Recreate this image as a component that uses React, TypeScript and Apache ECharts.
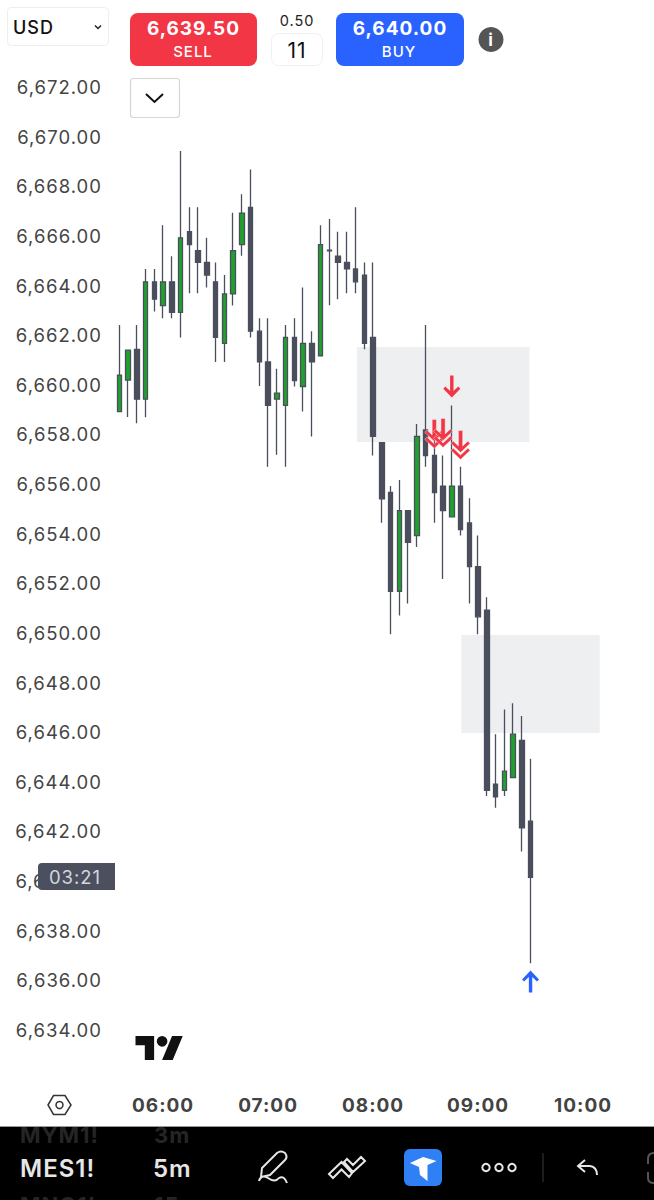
import React, { useEffect, useRef } from "react";
import * as echarts from "echarts";

const times: string[] = [];
for (let h = 5, m = 35; times.length < 61; m += 5) {
  if (m === 60) { m = 0; h += 1; }
  times.push(String(h).padStart(2, "0") + ":" + String(m).padStart(2, "0"));
}

const opens = [
  6658.92, 6660.19, 6661.43, 6659.42, 6664.15, 6663.19, 6664.15, 6662.92, 6666.17, 6665.41,
  6664.93, 6664.15, 6661.67, 6663.66, 6665.65, 6667.15, 6662.16, 6660.92, 6659.42, 6659.17,
  6661.91, 6659.93, 6661.67, 6661.17, 6665.43, 6665.18, 6664.93, 6664.67, 6664.42, 6661.91,
  6657.67, 6655.66, 6651.68, 6654.93, 6653.92, 6658.18, 6657.15, 6655.92, 6654.68, 6655.92,
  6654.43, 6652.67, 6650.92, 6643.91, 6643.66, 6644.17, 6645.67, 6642.42,
];
const closes = [
  6660.39, 6661.40, 6659.42, 6664.15, 6663.45, 6664.15, 6662.92, 6665.92, 6665.65, 6664.93,
  6664.42, 6661.91, 6663.66, 6665.41, 6666.92, 6662.16, 6660.92, 6659.17, 6659.66, 6661.91,
  6660.17, 6661.67, 6660.92, 6665.65, 6665.40, 6664.93, 6664.67, 6664.15, 6661.67, 6657.92,
  6655.40, 6651.68, 6654.93, 6653.65, 6657.92, 6657.15, 6655.66, 6654.93, 6655.92, 6654.16,
  6652.67, 6650.65, 6643.66, 6643.40, 6644.43, 6645.92, 6642.15, 6640.15,
];
const lows = [
  6658.92, 6658.70, 6658.45, 6658.69, 6662.95, 6662.68, 6662.68, 6661.91, 6663.69, 6663.69,
  6663.92, 6660.92, 6660.92, 6663.19, 6665.20, 6661.91, 6659.95, 6656.70, 6657.18, 6656.70,
  6659.93, 6658.92, 6657.92, 6661.17, 6663.20, 6663.45, 6663.69, 6663.69, 6661.43, 6657.15,
  6654.44, 6649.95, 6650.70, 6651.19, 6653.46, 6656.70, 6654.44, 6652.17, 6654.68, 6653.93,
  6651.19, 6649.95, 6643.43, 6642.96, 6643.43, 6644.17, 6641.19, 6636.69,
];
const highs = [
  6662.41, 6661.40, 6662.41, 6664.67, 6664.67, 6666.43, 6665.18, 6669.42, 6667.15, 6667.15,
  6665.92, 6664.93, 6664.42, 6666.93, 6667.68, 6668.68, 6662.68, 6662.68, 6660.65, 6662.41,
  6662.68, 6663.92, 6662.16, 6666.43, 6666.68, 6666.17, 6666.17, 6667.15, 6664.93, 6664.93,
  6657.67, 6655.92, 6656.16, 6654.93, 6658.42, 6662.41, 6657.78, 6657.15, 6659.17, 6656.70,
  6655.43, 6653.93, 6651.44, 6645.92, 6646.92, 6647.17, 6646.65, 6644.93,
];

const candles = opens.map((o, i) => [o, closes[i], lows[i], highs[i]]);
const isUp = closes.map((c, i) => c > opens[i]);

const singleSells = [[38, 6659.93]];
const doubleSells = [[36, 6658.02], [37, 6658.06], [39, 6657.57]];
const buys = [[47, 6635.95]];

const zones = [
  { from: 27.15, to: 46.88, top: 6661.52, bottom: 6657.69 },
  { from: 39.1, to: 54.9, top: 6649.92, bottom: 6645.97 },
];

const yTicks = { min: 6632, max: 6674, step: 2 };
const timeLabels = ["06:00", "07:00", "08:00", "09:00", "10:00"];

const UP = "#1fa12e";
const DOWN = "#4b4e5c";
const RED = "#f23645";
const BLUE = "#2962ff";
const FONT = "Inter";
const ARROW_DOWN = "path://M6.8 0H10.2V15.5L15 11L17 13.2L8.5 22L0 13.2L2 11L6.8 15.5Z";
const ARROW_UP = "path://M6.8 22H10.2V6.5L15 11L17 8.8L8.5 0L0 8.8L2 11L6.8 6.5Z";
const DOUBLE_DOWN =
  "path://M7 0H11V15.5L16 10.5L18 13L9 22L0 13L2 10.5L7 15.5ZM2 17.5L9 24.5L16 17.5L18 20L9 29L0 20Z";

echarts.graphic.registerShape("tvlogo", echarts.graphic.extendPath("M14 22H7V11H0V4h14v18zM28 22h-8l7.5-18h8L28 22zM24 8a4 4 0 1 1-8 0 4 4 0 0 1 8 0z", {}));
echarts.graphic.registerShape("penicon", echarts.graphic.extendPath("M262 1168L277 1153Q281 1150 285 1153Q288 1157 285 1160L270 1175L261 1177ZM259 1181Q261 1174 268 1178Q275 1183 279 1178Q284 1175 287 1183", {}));
echarts.graphic.registerShape("zigicon", echarts.graphic.extendPath("M329 1174L341.5 1162L352 1173L349 1177L341.5 1169.5L333 1178ZM344 1162L347 1159L353 1165L361 1157L365 1161L353 1172Z", {}));
echarts.graphic.registerShape("tfmark", echarts.graphic.extendPath("M410 1163L423 1157L436.5 1161L427.5 1165V1181L420 1175L419 1167Z", {}));
echarts.graphic.registerShape("undoicon", echarts.graphic.extendPath("M585 1160L578 1166L585 1172M578 1166L590 1166Q597 1167 597 1175", {}));
echarts.graphic.registerShape("bracketicon", echarts.graphic.extendPath("M654 1153Q648 1153 648 1159V1164M648 1172V1178Q648 1183 654 1183", {}));

const text = (s: string, x: number, y: number, font: string, fill: string, align = "center", z = 110) => ({
  type: "text",
  z,
  style: { text: s, x, y, font, fill, align, textAlign: align, verticalAlign: "middle", textVerticalAlign: "middle" },
});

const uiGraphics = [
  { type: "rect", z: 100, shape: { x: 7.5, y: 7.5, width: 101, height: 38, r: 4 }, style: { fill: "#fff", stroke: "#eeeeee", lineWidth: 1 } },
  text("USD", 13, 27, `500 18px ${FONT}`, "#111", "left"),
  { type: "polyline", z: 110, shape: { points: [[95, 25.5], [98, 28.5], [101, 25.5]] }, style: { fill: "none", stroke: "#222", lineWidth: 1.5 } },

  { type: "rect", z: 100, shape: { x: 130, y: 13, width: 127, height: 53, r: 8 }, style: { fill: RED } },
  text("6,639.50", 193.5, 28.5, `700 19px ${FONT}`, "#fff"),
  text("SELL", 193, 51, `500 15px ${FONT}`, "#fff"),

  text("0.50", 297, 20, `400 14.5px ${FONT}`, "#222"),
  { type: "rect", z: 100, shape: { x: 271.5, y: 33.5, width: 51, height: 32, r: 7 }, style: { fill: "#fff", stroke: "#f0f0f0", lineWidth: 1 } },
  text("11", 297, 50, `400 21px ${FONT}`, "#111"),

  { type: "rect", z: 100, shape: { x: 336, y: 13, width: 128, height: 53, r: 8 }, style: { fill: BLUE } },
  text("6,640.00", 400, 28.5, `700 19px ${FONT}`, "#fff"),
  text("BUY", 399, 51, `500 15px ${FONT}`, "#fff"),

  { type: "circle", z: 100, shape: { cx: 491, cy: 39.5, r: 12.5 }, style: { fill: "#555" } },
  text("i", 491, 40, `700 17px ${FONT}`, "#fff"),

  { type: "rect", z: 100, shape: { x: 130.5, y: 78.5, width: 49, height: 39, r: 3 }, style: { fill: "#fff", stroke: "#d6d6d6", lineWidth: 1.2 } },
  { type: "polyline", z: 110, shape: { points: [[146, 94], [154.5, 102], [163, 94]] }, style: { fill: "none", stroke: "#111", lineWidth: 2 } },

  { type: "rect", z: 100, shape: { x: 38, y: 863, width: 77, height: 27, r: [4, 0, 0, 4] }, style: { fill: "#4b4f5e" } },
  text("03:21", 75, 876.5, `400 18.5px ${FONT}`, "#d3d6dd"),

  { type: "tvlogo", z: 100, x: 135.5, y: 1030.7, scaleX: 1.33, scaleY: 1.33, style: { fill: "#111" } },

  { type: "polygon", z: 100, shape: { points: [[48, 1105], [53.5, 1095.5], [65, 1095.5], [71, 1105], [65, 1114.5], [53.5, 1114.5]] }, style: { fill: "none", stroke: "#333", lineWidth: 1.5 } },
  { type: "circle", z: 100, shape: { cx: 59.5, cy: 1105, r: 3.5 }, style: { fill: "none", stroke: "#333", lineWidth: 1.5 } },

  { type: "rect", z: 100, shape: { x: 0, y: 1126, width: 654, height: 74 }, style: { fill: "#000" } },
  text("MYM1!", 20, 1135, `700 22px ${FONT}`, "#252525", "left", 101),
  text("3m", 154, 1135, `700 22px ${FONT}`, "#252525", "left", 101),
  text("MNQ1!", 20, 1205, `700 22px ${FONT}`, "#252525", "left", 101),
  text("15m", 154, 1205, `700 22px ${FONT}`, "#252525", "left", 101),
  { type: "rect", z: 102, shape: { x: 0, y: 1117, width: 654, height: 9.5 }, style: { fill: "#fff" } },
  { type: "rect", z: 102, shape: { x: 0, y: 1126, width: 654, height: 1 }, style: { fill: "#9a9a9a" } },
  text("MES1!", 20, 1168, `600 24px ${FONT}`, "#e6e6e6", "left"),
  text("5m", 153, 1168, `600 24px ${FONT}`, "#e6e6e6", "left"),
  { type: "penicon", z: 110, style: { fill: "none", stroke: "#e6e6e6", lineWidth: 2 } },
  { type: "zigicon", z: 110, style: { fill: "none", stroke: "#e6e6e6", lineWidth: 2 } },
  { type: "rect", z: 110, shape: { x: 404, y: 1149, width: 38, height: 37, r: 6 }, style: { fill: "#2f80f5" } },
  { type: "tfmark", z: 111, style: { fill: "#fff" } },
  { type: "circle", z: 110, shape: { cx: 486, cy: 1167.5, r: 3.7 }, style: { fill: "none", stroke: "#e6e6e6", lineWidth: 2 } },
  { type: "circle", z: 110, shape: { cx: 499, cy: 1167.5, r: 3.7 }, style: { fill: "none", stroke: "#e6e6e6", lineWidth: 2 } },
  { type: "circle", z: 110, shape: { cx: 512, cy: 1167.5, r: 3.7 }, style: { fill: "none", stroke: "#e6e6e6", lineWidth: 2 } },
  { type: "line", z: 110, shape: { x1: 543, y1: 1153, x2: 543, y2: 1182 }, style: { stroke: "#3a3a3a", lineWidth: 1 } },
  { type: "undoicon", z: 110, style: { fill: "none", stroke: "#e6e6e6", lineWidth: 2 } },
  { type: "bracketicon", z: 110, style: { fill: "none", stroke: "#555", lineWidth: 2 } },
];

export default function App() {
  const ref = useRef<HTMLDivElement>(null);
  useEffect(() => {
    const chart = echarts.init(ref.current!, undefined, { renderer: "svg" });
    chart.setOption({
      animation: false,
      backgroundColor: "#fff",
      grid: { left: 114.925, top: 37.36, width: 533.75, height: 1042.27, containLabel: false },
      xAxis: {
        type: "category",
        data: times,
        boundaryGap: true,
        axisLine: { show: false },
        axisTick: { show: false },
        splitLine: { show: false },
        axisLabel: {
          interval: (_: number, v: string) => timeLabels.includes(v),
          margin: 16,
          color: "#434343",
          fontFamily: FONT,
          fontWeight: 700,
          fontSize: 19,
        },
      },
      yAxis: {
        type: "value",
        min: yTicks.min,
        max: yTicks.max,
        interval: yTicks.step,
        axisLine: { show: false },
        axisTick: { show: false },
        splitLine: { show: false },
        axisLabel: {
          showMinLabel: false,
          showMaxLabel: false,
          margin: 13,
          color: "#444",
          fontFamily: FONT,
          fontSize: 18.5,
          formatter: (v: number) => v.toLocaleString("en-US", { minimumFractionDigits: 2, maximumFractionDigits: 2 }),
        },
      },
      series: [
        {
          type: "custom",
          z: 1,
          silent: true,
          data: zones.map((_, i) => [i]),
          encode: { x: -1, y: -1 },
          clip: false,
          renderItem: (params: any, api: any) => {
            const zn = zones[params.dataIndex];
            const band = api.size([1, 0])[0];
            const a = api.coord([Math.floor(zn.from), zn.top]);
            const b = api.coord([Math.floor(zn.to), zn.bottom]);
            const x0 = a[0] + (zn.from - Math.floor(zn.from)) * band;
            const x1 = b[0] + (zn.to - Math.floor(zn.to)) * band;
            return {
              type: "rect",
              shape: { x: x0, y: a[1], width: x1 - x0, height: b[1] - a[1] },
              style: { fill: "#eeeff1" },
            };
          },
        },
        {
          type: "candlestick",
          data: candles.map((c, i) => ({
            value: c,
            itemStyle: {
              color: isUp[i] ? UP : DOWN,
              color0: isUp[i] ? UP : DOWN,
              borderColor: DOWN,
              borderColor0: DOWN,
              borderWidth: 1.3,
            },
          })),
          barWidth: 5,
          z: 3,
        },
        {
          type: "scatter",
          data: doubleSells,
          symbol: DOUBLE_DOWN,
          symbolSize: [19, 29],
          z: 5,
          itemStyle: { color: RED, opacity: 1, borderColor: "#fff", borderWidth: 0.4 },
        },
        {
          type: "scatter",
          data: singleSells,
          symbol: ARROW_DOWN,
          symbolSize: [17, 22],
          z: 5,
          itemStyle: { color: RED, opacity: 1 },
        },
        {
          type: "scatter",
          data: buys,
          symbol: ARROW_UP,
          symbolSize: [17, 22],
          z: 5,
          itemStyle: { color: BLUE, opacity: 1 },
        },
      ],
      graphic: { elements: uiGraphics },
    });
    return () => chart.dispose();
  }, []);
  return (
    <div
      ref={ref}
      style={{ position: "absolute", left: 0, top: 0, width: 654, height: 1200, letterSpacing: "1px" }}
    />
  );
}
